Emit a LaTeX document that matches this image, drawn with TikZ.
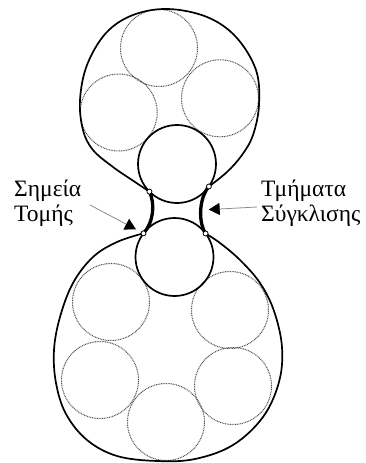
\documentclass[tikz,border=0pt]{standalone}
\usepackage{fontspec}
\setmainfont{Liberation Serif}
\usetikzlibrary{arrows.meta}
\begin{document}
\begin{tikzpicture}[x=1pt,y=-1pt,
  solidc/.style={draw=black,circle,line width=1.7pt,inner sep=0pt,minimum size=78pt},
  dotc/.style={draw=black!70,circle,line width=1pt,dash pattern=on 0.9pt off 0.8pt,inner sep=0pt,minimum size=77pt},
  outl/.style={draw=black,line width=1.7pt},
  neck/.style={draw=black,line width=3.3pt},
  dotpt/.style={circle,draw=black,fill=white,line width=0.8pt,inner sep=0pt,minimum size=5pt},
  lbl/.style={font=\fontsize{23.5}{25}\selectfont,align=left,inner sep=0pt},
  pointer/.style={draw=black!45,line width=0.8pt,-{Triangle[length=11pt,width=12pt,color=black]}}]
\useasboundingbox (0,0) rectangle (366,463);
% dotted circles (upper lobe)
\node[dotc] (d1) at (159,48) {};
\node[dotc] (d2) at (118.7,112.5) {};
\node[dotc] (d3) at (220,98.3) {};
% dotted circles (lower lobe)
\node[dotc] (d4) at (111,302) {};
\node[dotc] (d5) at (230,310) {};
\node[dotc] (d6) at (100,380) {};
\node[dotc] (d7) at (233,386) {};
\node[dotc] (d8) at (166,422) {};
% small solid circles
\node[solidc] (cU) at (177,164) {};
\node[solidc] (cL) at (174.5,257) {};
% intersection points
\coordinate (UL) at (149.4,191.6);
\coordinate (UR) at (208.9,186.5);
\coordinate (LL) at (143.5,233.3);
\coordinate (LR) at (205.6,233.5);
% upper lobe outline
\draw[outl] plot[smooth,tension=0.6] coordinates {(UR) (227,172) (242,155) (253,135) (259,105) (256,70) (236,37) (207,17) (168,9) (133,15) (106,33) (87,65) (80,100) (83,130) (93,150) (113,167) (132,180) (UL)};
% lower lobe outline
\draw[outl] plot[smooth,tension=0.6] coordinates {(LL) (117,242) (93,257) (73,283) (60,317) (54,350) (56,383) (66,414) (87,440) (117,456) (157,461) (195,459) (233,445) (263,417) (279,382) (282,347) (274,311) (260,283) (240,260) (220,243) (LR)};
% convergence segments
\draw[neck] (UL) .. controls (155,203) and (154,222) .. (LL);
\draw[neck] (UR) .. controls (199,198) and (198,222) .. coordinate[pos=0.5] (RM) (LR);
% dots
\node[dotpt] (pUL) at (UL) {};
\node[dotpt] (pUR) at (UR) {};
\node[dotpt] (pLL) at (LL) {};
\node[dotpt] (pLR) at (LR) {};
% labels
\node[lbl,anchor=north west] (tl) at (14,180) {Σημεία\\Τομής};
\node[lbl,anchor=north west] (tr) at (261,180) {Τμήματα\\Σύγκλισης};
\coordinate (sl) at (90,205);
\coordinate (sr) at (257,207);
\draw[pointer,shorten >=8.5pt] (sl) -- (LL);
\draw[pointer,shorten >=8pt] (sr) -- (RM);
\end{tikzpicture}
\end{document}
